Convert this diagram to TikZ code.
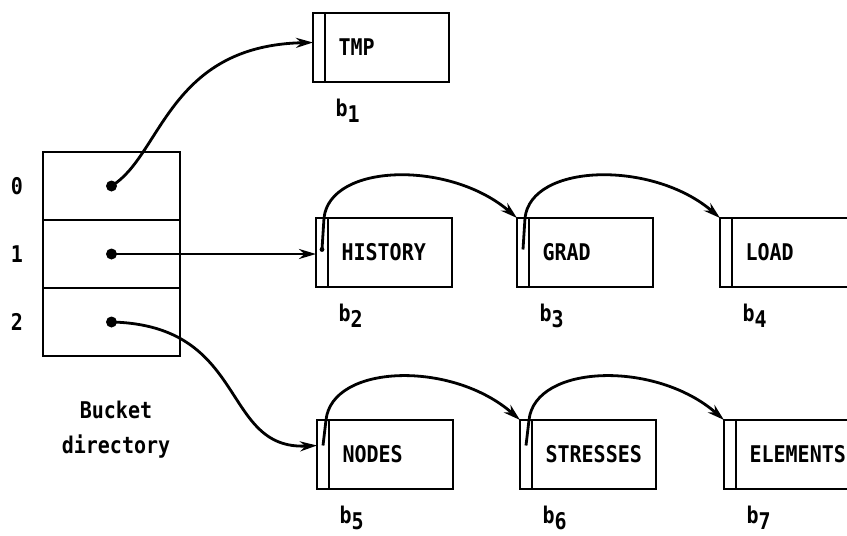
\documentclass[tikz,border=0pt]{standalone}
\usepackage{fontspec}
\setmainfont[FakeStretch=0.87]{DejaVu Sans Mono}
\usetikzlibrary{
    positioning,
    calc,
    arrows.meta,
}

\newcommand{\bname}[1]{b\raisebox{-0.3em}{#1}}

\begin{document}
\begin{tikzpicture}[
    x=1pt, y=-1pt,
    font=\fontsize{23}{35}\selectfont\bfseries,
    bucket/.style={draw, line width=2.6pt, minimum width=137pt, minimum height=68pt, outer sep=0pt},
    block/.style={draw, line width=2.6pt, minimum width=136pt, minimum height=69pt, outer sep=0pt, anchor=north west},
    link/.style={line width=2.8pt, -{Stealth[length=17pt, width=10pt]}},
    ]
\clip (0,0) rectangle (847,536);

% bucket directory
\node[bucket, anchor=north west] at (43,152) (dir0) {};
\node[bucket, below=0pt of dir0] (dir1) {};
\node[bucket, below=0pt of dir1] (dir2) {};

\foreach \i in {0,1,2}
    \node at ([xshift=-26pt]dir\i.west) (idx\i) {\i};

\node[align=center] at (116,430) (dirname) {Bucket\\directory};

% buckets
\node[block] at (313,13) (b1) {};
\node[block] at (316,218) (b2) {};
\node[block, right=65pt of b2] (b3) {};
\node[block, right=67pt of b3] (b4) {};
\node[block] at (317,420) (b5) {};
\node[block, right=67pt of b5] (b6) {};
\node[block, right=68pt of b6] (b7) {};

\foreach \b/\n/\txt in {b1/1/TMP, b2/2/HISTORY, b3/3/GRAD, b4/4/LOAD,
                        b5/5/NODES, b6/6/STRESSES, b7/7/ELEMENTS}{
    \draw[line width=1.6pt] ([xshift=12pt]\b.north west) -- ([xshift=12pt]\b.south west);
    \node[anchor=west] at ([xshift=22pt]\b.west) (\b-txt) {\txt};
    \node[anchor=north west] at ([xshift=19pt,yshift=-13pt]\b.south west) (\b-lbl) {\bname{\n}};
}

% pointers inside the buckets
\foreach \b in {b2,b3,b4}
    \coordinate (\b-ptr) at ([xshift=6pt,yshift=3pt]\b.west);
\foreach \b in {b5,b6,b7}
    \coordinate (\b-ptr) at ([xshift=6pt,yshift=9pt]\b.west);
\foreach \b in {b2,...,b7}
    \fill (\b-ptr) circle (2.4pt);

% directory to buckets
\foreach \i in {0,1,2}
    \fill (dir\i.center) circle (5.5pt);
\draw[link] (dir0.center) .. controls +(50,-30) and +(-145,3) .. ([yshift=5pt]b1.west);
\draw[link] (dir1.center) -- (dir1.center -| b2.west);
\draw[link] (dir2.center) .. controls +(138,3) and +(-97,5) .. (b5-ptr -| b5.west);

% chains
\draw[link] (b2-ptr) -- ([xshift=8pt]b2.north west) .. controls +(6,-55) and +(-67,-58) .. (b3.north west);
\draw[link] (b3-ptr) -- ([xshift=8pt]b3.north west) .. controls +(6,-55) and +(-67,-58) .. (b4.north west);
\draw[link] (b5-ptr) -- ([xshift=9pt]b5.north west) .. controls +(6,-56) and +(-68,-60) .. (b6.north west);
\draw[link] (b6-ptr) -- ([xshift=9pt]b6.north west) .. controls +(6,-56) and +(-68,-60) .. (b7.north west);

\end{tikzpicture}
\end{document}
